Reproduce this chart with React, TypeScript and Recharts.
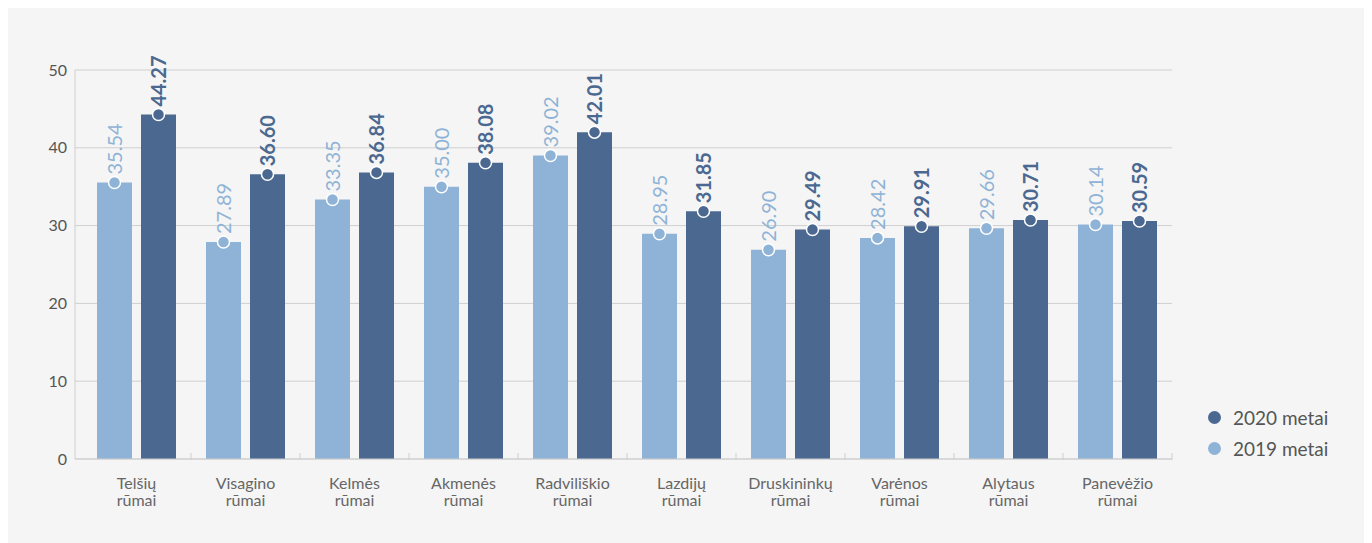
import { Bar, BarChart, CartesianGrid, LabelList, Legend, XAxis, YAxis } from "recharts";

const courts = [
  "Telšių rūmai",
  "Visagino rūmai",
  "Kelmės rūmai",
  "Akmenės rūmai",
  "Radviliškio rūmai",
  "Lazdijų rūmai",
  "Druskininkų rūmai",
  "Varėnos rūmai",
  "Alytaus rūmai",
  "Panevėžio rūmai",
];
const y2019 = [35.54, 27.89, 33.35, 35.0, 39.02, 28.95, 26.9, 28.42, 29.66, 30.14];
const y2020 = [44.27, 36.6, 36.84, 38.08, 42.01, 31.85, 29.49, 29.91, 30.71, 30.59];
const yTicks = [0, 10, 20, 30, 40, 50];
const edgeTicks = [1, 2, 3, 4, 5, 6, 7, 8, 9, 10];

const LIGHT = "#8fb3d6";
const DARK = "#4b6990";

const legendItems = [
  { name: "2020 metai", color: DARK },
  { name: "2019 metai", color: LIGHT },
];

const data = courts.map((c, i) => ({ c, a: y2019[i], b: y2020[i], k: i + 0.5 }));

const dotLabel = (color: string, weight: number) => (p: any) => {
  const cx = p.x + p.width / 2;
  const cy = p.y;
  const tx = cx + 7.5;
  const ty = cy - 8;
  return (
    <g>
      <circle cx={cx} cy={cy} r={6} fill={color} stroke="#fff" strokeWidth={1.5} />
      <text
        x={tx}
        y={ty}
        transform={`rotate(-90 ${tx} ${ty})`}
        fill={color}
        fontSize={20}
        fontWeight={weight}
      >
        {Number(p.value).toFixed(2)}
      </text>
    </g>
  );
};

const CourtTick = ({ x, y, payload }: any) => {
  const [first, second] = String(payload.value).split(" ");
  return (
    <text x={x} y={y} textAnchor="middle" fill="#666" fontSize={16}>
      <tspan x={x} dy={22}>
        {first}
      </tspan>
      <tspan x={x} dy={17}>
        {second}
      </tspan>
    </text>
  );
};

const NoTick = () => <g />;

const LegendBox = () => (
  <div>
    {legendItems.map((it) => (
      <div key={it.name} style={{ display: "flex", alignItems: "center", height: 31 }}>
        <span
          style={{
            width: 13,
            height: 13,
            borderRadius: "50%",
            background: it.color,
            marginRight: 12,
            display: "inline-block",
          }}
        />
        <span style={{ fontSize: 19, color: "#555" }}>{it.name}</span>
      </div>
    ))}
  </div>
);

export default function App() {
  return (
    <div
      style={{
        width: 1356,
        height: 535,
        background: "#f5f5f5",
        fontFamily: "Lato, 'Open Sans', sans-serif",
      }}
    >
      <BarChart
        width={1356}
        height={535}
        data={data}
        margin={{ top: 62, right: 192, left: 7, bottom: 82 }}
        barSize={35}
        barGap={9}
      >
        <CartesianGrid xAxisId="cat" vertical={false} stroke="#cfcfcf" />
        <XAxis
          xAxisId="edge"
          type="number"
          dataKey="k"
          domain={[0, 10]}
          ticks={edgeTicks}
          height={1}
          axisLine={false}
          tickSize={-7}
          tickLine={{ stroke: "#cfcfcf" }}
          tick={<NoTick />}
          padding={{ left: 7, right: 0 }}
        />
        <XAxis
          xAxisId="cat"
          dataKey="c"
          height={1}
          axisLine={{ stroke: "#cfcfcf" }}
          tickLine={false}
          tick={<CourtTick />}
          interval={0}
          padding={{ left: 7, right: 0 }}
        />
        <YAxis
          width={60}
          domain={[0, 50]}
          ticks={yTicks}
          axisLine={{ stroke: "#cfcfcf" }}
          tickLine={false}
          tick={{ fill: "#555", fontSize: 16 }}
        />
        <Legend
          layout="vertical"
          align="center"
          verticalAlign="middle"
          wrapperStyle={{ left: 1200, top: 394, width: 150 }}
          content={() => <LegendBox />}
        />
        <Bar xAxisId="cat" dataKey="a" name="2019 metai" fill={LIGHT} isAnimationActive={false}>
          <LabelList dataKey="a" content={dotLabel(LIGHT, 400)} />
        </Bar>
        <Bar xAxisId="cat" dataKey="b" name="2020 metai" fill={DARK} isAnimationActive={false}>
          <LabelList dataKey="b" content={dotLabel(DARK, 700)} />
        </Bar>
      </BarChart>
    </div>
  );
}
